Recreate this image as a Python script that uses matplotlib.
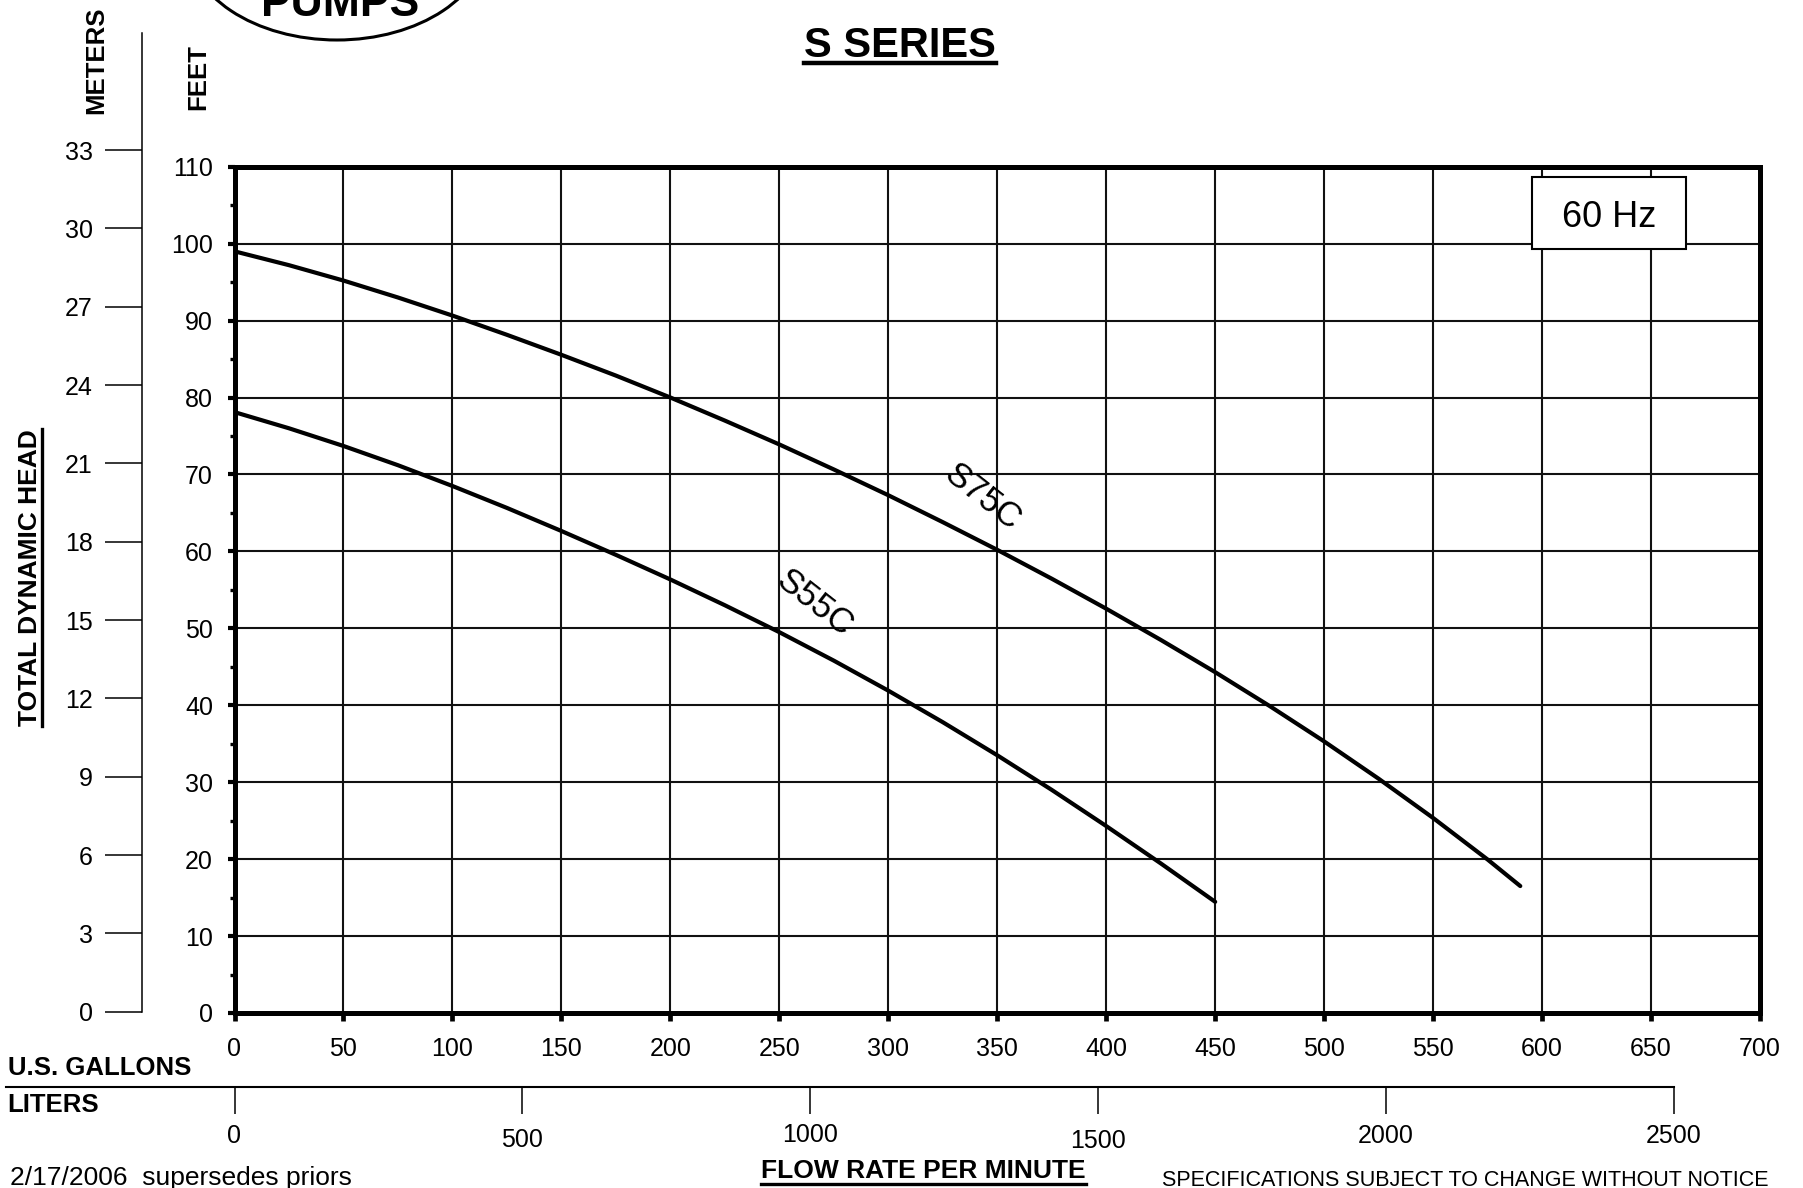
import numpy as np
import matplotlib
matplotlib.use("Agg")
import matplotlib.pyplot as plt
from matplotlib.patches import Ellipse, Rectangle
from matplotlib.lines import Line2D
from matplotlib.transforms import IdentityTransform, blended_transform_factory
from matplotlib.ticker import MultipleLocator

plt.rcParams['font.family'] = ['Liberation Sans', 'DejaVu Sans']

# ---------------- data ----------------
s75c_gpm = [0, 25, 50, 75, 100, 125, 150, 175, 200, 225, 250, 275, 300,
            325, 350, 375, 400, 425, 450, 475, 500, 525, 550, 575, 590]
s75c_head = [99.0, 97.2, 95.2, 93.0, 90.65, 88.15, 85.55, 82.85, 80.0, 77.0, 73.9,
             70.65, 67.3, 63.8, 60.2, 56.45, 52.55, 48.5, 44.3, 39.9, 35.3,
             30.45, 25.35, 19.95, 16.5]
s55c_gpm = [0, 25, 50, 75, 100, 125, 150, 175, 200, 225, 250, 275, 300,
            325, 350, 375, 400, 425, 450]
s55c_head = [78.1, 76.0, 73.7, 71.2, 68.5, 65.65, 62.65, 59.55, 56.35, 53.0, 49.5,
             45.8, 41.9, 37.8, 33.5, 29.0, 24.3, 19.45, 14.45]
curve_names = ['S75C', 'S55C']
label_gpm = [343, 266]
label_head = [67.1, 53.2]

gpm_ticks = list(range(0, 701, 50))
feet_ticks = list(range(0, 111, 10))
meter_ticks = list(range(0, 34, 3))
liter_ticks = [0, 500, 1000, 1500, 2000, 2500]
LITERS_PER_GAL = 3.78541

# ---------------- figure ----------------
W, H = 1803, 1188
fig = plt.figure(figsize=(W / 100, H / 100), dpi=100)
fig.patch.set_facecolor('white')


def fx(px):
    return px / W


def fy(py):
    return 1 - py / H


TICKFONT = 'Liberation Sans'
TICKSIZE = 18

# main axes
AX_L, AX_R, AX_T, AX_B = 234.5, 1760, 166.7, 1013
ax = fig.add_axes([fx(AX_L), fy(AX_B), (AX_R - AX_L) / W, (AX_B - AX_T) / H])
ax.set_xlim(0, 700)
ax.set_ylim(0, 110)
ax.set_xticks(gpm_ticks)
ax.set_yticks(feet_ticks)
ax.yaxis.set_minor_locator(MultipleLocator(5))
ax.grid(True, which='major', color='#111111', lw=1.5)
ax.set_axisbelow(True)
for s in ax.spines.values():
    s.set_linewidth(3.6)
    s.set_color('black')
    s.set_zorder(6)
ax.tick_params(axis='x', which='major', direction='out', length=5.5, width=3.4,
               pad=12, labelsize=TICKSIZE, labelfontfamily=TICKFONT)
ax.tick_params(axis='y', which='major', direction='out', length=5, width=3.0,
               pad=10.5, labelsize=TICKSIZE, labelfontfamily=TICKFONT)
ax.tick_params(axis='y', which='minor', direction='out', length=3.5, width=2.4)

ax.plot(s75c_gpm, s75c_head, color='black', lw=3.0, solid_capstyle='round',
        solid_joinstyle='round', zorder=3)
ax.plot(s55c_gpm, s55c_head, color='black', lw=3.0, solid_capstyle='round',
        solid_joinstyle='round', zorder=3)
for name, gx, hy in zip(curve_names, label_gpm, label_head):
    ax.text(gx, hy, name, rotation=-38, rotation_mode='anchor', ha='center',
            va='center', fontsize=25, color='black', zorder=4)

# 60 Hz box
ax.add_patch(Rectangle((595.4, 99.3), 70.6, 9.35, facecolor='white',
                       edgecolor='black', lw=1.5, zorder=5))
ax.text(630.7, 102.1, '60 Hz', ha='center', va='baseline', fontsize=26, zorder=6)

# meters axis
M_X, M_TOP, M_ZERO, M_33 = 142.3, 33.3, 1011.7, 150.0
px_per_m = (M_ZERO - M_33) / 33
axm = fig.add_axes([fx(M_X), fy(M_ZERO), 0.0001, (M_ZERO - M_TOP) / H])
axm.set_ylim(0, (M_ZERO - M_TOP) / px_per_m)
axm.set_xticks([])
for side in ['top', 'right', 'bottom']:
    axm.spines[side].set_visible(False)
axm.spines['left'].set_linewidth(1.1)
axm.set_yticks(meter_ticks)
axm.tick_params(axis='y', direction='out', length=26.6, width=1.1, pad=9,
                labelsize=TICKSIZE, labelfontfamily=TICKFONT)
axm.patch.set_visible(False)

# liters axis
L_Y, L_X0 = 1086.7, 5.7
px_per_gal = (AX_R - AX_L) / 700
px_per_l = px_per_gal / LITERS_PER_GAL
l_left = (L_X0 - AX_L) / px_per_l
l_right_px = AX_L + liter_ticks[-1] * px_per_l
axl = fig.add_axes([fx(L_X0), fy(L_Y), (l_right_px - L_X0) / W, 0.0001])
axl.set_xlim(l_left, liter_ticks[-1])
axl.set_yticks([])
for side in ['top', 'right', 'left']:
    axl.spines[side].set_visible(False)
axl.spines['bottom'].set_linewidth(1.5)
axl.set_xticks(liter_ticks)
axl.tick_params(axis='x', direction='out', length=19.4, width=1.1, labelbottom=False)
axl.patch.set_visible(False)
liter_label_baselines = [1143.3, 1146.7, 1142.3, 1148.3, 1143.3, 1143.3]
btr = blended_transform_factory(axl.transData, fig.transFigure)
for v, b in zip(liter_ticks, liter_label_baselines):
    axl.text(v, fy(b), str(v), transform=btr, ha='center', va='baseline',
             fontsize=TICKSIZE, family=TICKFONT, clip_on=False)

# labels
BOLD = dict(fontweight='bold', color='black')
fig.text(fx(7.7), fy(1075), 'U.S. GALLONS', ha='left', va='baseline', fontsize=18.5, **BOLD)
fig.text(fx(7.7), fy(1112), 'LITERS', ha='left', va='baseline', fontsize=18.5, **BOLD)
fig.text(fx(103.3), fy(60), 'METERS', rotation=90, rotation_mode='anchor',
         ha='center', va='baseline', fontsize=18.5, **BOLD)
fig.text(fx(205), fy(76.7), 'FEET', rotation=90, rotation_mode='anchor',
         ha='center', va='baseline', fontsize=18.5, **BOLD)
t_tdh = fig.text(fx(37.5), fy(577.5), 'TOTAL DYNAMIC HEAD', rotation=90,
                 rotation_mode='anchor', ha='center', va='baseline', fontsize=19, **BOLD)
t_title = fig.text(fx(900), fy(56.7), 'S SERIES', ha='center', va='baseline',
                   fontsize=30, **BOLD)
t_flow = fig.text(fx(923.5), fy(1178.3), 'FLOW RATE PER MINUTE', ha='center',
                  va='baseline', fontsize=19, **BOLD)
fig.text(fx(9.6), fy(1185), '2/17/2006  supersedes priors', ha='left', va='baseline',
         fontsize=19, family='Liberation Sans')
fig.text(fx(1768), fy(1186), 'SPECIFICATIONS SUBJECT TO CHANGE WITHOUT NOTICE',
         ha='right', va='baseline', fontsize=15.5, family='Liberation Sans')

# logo fragment
fig.add_artist(Ellipse((fx(337), fy(-60)), 300 / W, 200 / H, transform=fig.transFigure,
                       fill=False, lw=2.2, edgecolor='black'))
fig.text(fx(340), fy(16), 'PUMPS', ha='center', va='baseline', fontsize=32, **BOLD)

# underlines
fig.canvas.draw()
r = fig.canvas.get_renderer()
bb = t_title.get_window_extent(r)
fig.add_artist(Line2D([bb.x0, bb.x1], [H - 63, H - 63], transform=IdentityTransform(),
                      color='black', lw=3.2))
bb = t_flow.get_window_extent(r)
fig.add_artist(Line2D([bb.x0, bb.x1], [H - 1184, H - 1184], transform=IdentityTransform(),
                      color='black', lw=2.4))
bb = t_tdh.get_window_extent(r)
fig.add_artist(Line2D([42, 42], [bb.y0, bb.y1], transform=IdentityTransform(),
                      color='black', lw=2.4))

fig.savefig('out.png', dpi=100, facecolor='white')
